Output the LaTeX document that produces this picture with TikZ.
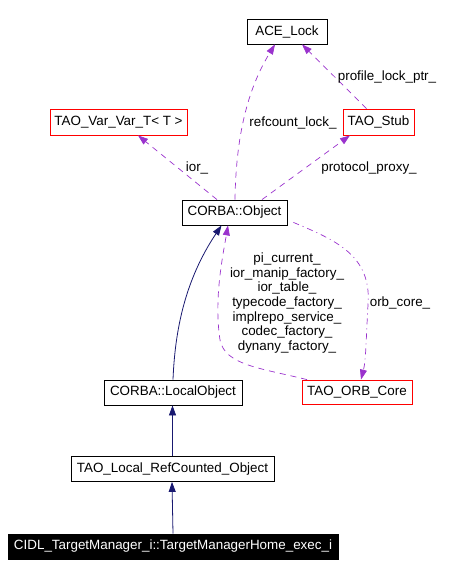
\documentclass[tikz,border=0pt]{standalone}
\usepackage{fontspec}
\setmainfont{Liberation Sans}
\usetikzlibrary{arrows.meta}
\definecolor{edgepurple}{HTML}{9A32CD}
\definecolor{edgenavy}{HTML}{191970}
\tikzset{
  box/.style={draw=black, line width=0.8pt, inner sep=0pt, font=\fontsize{13.4}{15}\selectfont, text=black},
  redbox/.style={box, draw=red},
  lbl/.style={inner sep=0pt, font=\fontsize{13.4}{14.7}\selectfont, align=center},
  uses/.style={-{Triangle[length=10pt,width=7pt,fill=edgepurple]}, draw=edgepurple, line width=0.7pt, dash pattern=on 6pt off 5pt},
  usesdd/.style={-{Triangle[length=10pt,width=7pt,fill=edgepurple]}, draw=edgepurple, line width=0.7pt, dash pattern=on 6pt off 4pt on 1pt off 4pt},
  inherit/.style={-{Triangle[length=10pt,width=7pt,fill=edgenavy]}, draw=edgenavy, line width=0.8pt},
}
\begin{document}
\begin{tikzpicture}[x=1pt,y=-1pt]
\useasboundingbox (0,0) rectangle (462,576);
\node[box, minimum width=80pt, minimum height=25pt] (ace) at (287,31.5) {ACE\_Lock};
\node[redbox, minimum width=137pt, minimum height=26pt] (var) at (118.5,122) {TAO\_Var\_Var\_T< T >};
\node[redbox, minimum width=71pt, minimum height=26pt] (stub) at (378.5,122) {TAO\_Stub};
\node[box, minimum width=105pt, minimum height=25pt] (obj) at (234.5,212.5) {CORBA::Object};
\node[box, minimum width=138pt, minimum height=25pt] (local) at (173,392.5) {CORBA::LocalObject};
\node[redbox, minimum width=110pt, minimum height=24pt] (orb) at (357,392) {TAO\_ORB\_Core};
\node[box, minimum width=203pt, minimum height=25pt] (ref) at (172.5,469) {TAO\_Local\_RefCounted\_Object};
\node[box, fill=black, text=white, minimum width=330pt, minimum height=25pt] (cidl) at (173,546.5) {CIDL\_TargetManager\_i::TargetManagerHome\_exec\_i};

% uses edges
\draw[uses] ([xshift=0.5pt]obj.north) .. controls (236,130) and (250,85) .. ([xshift=-12pt]ace.south);
\draw[uses] ([xshift=-12pt]stub.north) -- ([xshift=15pt]ace.south);
\draw[uses] ([xshift=-17.5pt]obj.north) -- ([xshift=19.5pt]var.south);
\draw[uses] ([xshift=27.5pt]obj.north) -- ([xshift=-28.5pt]stub.south);
\draw[usesdd] ([xshift=6pt,yshift=3pt]obj.south east) .. controls (335,240) and (372,255) .. (368,305) .. controls (366,340) and (366,360) .. ([xshift=4pt]orb.north);
\draw[uses] ([xshift=-50pt]orb.north) .. controls (260,368) and (225,365) .. (220,340) .. controls (214,300) and (222,260) .. ([xshift=-6.5pt]obj.south);
% inheritance
\draw[inherit] (local.north) .. controls (175,330) and (185,280) .. ([xshift=-13pt]obj.south);
\draw[inherit] (ref.north) -- ([xshift=-0.5pt]local.south);
\draw[inherit] (cidl.north) -- ([xshift=-0.5pt]ref.south);

% labels
\node[lbl] (l1) at (293,123) {refcount\_lock\_};
\node[lbl] (l2) at (387,77) {profile\_lock\_ptr\_};
\node[lbl] (l3) at (197,168) {ior\_};
\node[lbl] (l4) at (369,168) {protocol\_proxy\_};
\node[lbl] (l5) at (400,303) {orb\_core\_};
\node[lbl] (l6) at (287,303) {pi\_current\_\\ior\_manip\_factory\_\\ior\_table\_\\typecode\_factory\_\\implrepo\_service\_\\codec\_factory\_\\dynany\_factory\_};
\end{tikzpicture}
\end{document}
